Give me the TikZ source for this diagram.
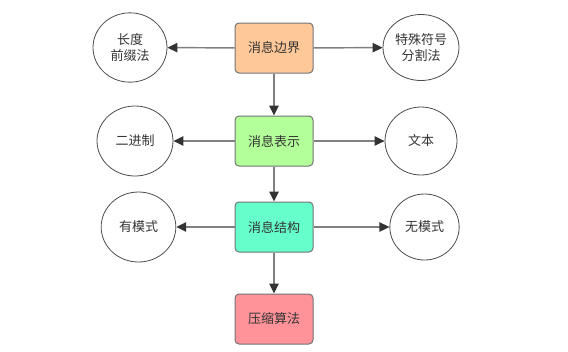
\documentclass[tikz,border=0pt]{standalone}
\usepackage{fontspec}
\newfontfamily\cjk{Noto Sans CJK SC}
\usetikzlibrary{arrows.meta,shapes.geometric}
\definecolor{txt}{HTML}{333333}
\definecolor{edge}{HTML}{808080}
\definecolor{tipc}{HTML}{333333}
\definecolor{cA}{HTML}{FFC899}
\definecolor{cB}{HTML}{B3FF99}
\definecolor{cC}{HTML}{66FFCC}
\definecolor{cD}{HTML}{FF9399}
\tikzset{
  box/.style={draw=black!55, line width=0.75pt, rounded corners=3pt, minimum width=58.5pt, minimum height=37.5pt, inner sep=0pt, font=\cjk\fontsize{9.75}{12.5}\selectfont, text=txt},
  oval/.style={draw=black!70, line width=0.6pt, ellipse, inner sep=0pt, font=\cjk\fontsize{9.75}{12.5}\selectfont, text=txt, align=center},
  conn/.style={draw=edge, line width=1.1pt, -{Triangle[length=7.5pt,width=7pt,color=tipc]}, shorten >=0pt},
}
\begin{document}
\begin{tikzpicture}[x=0.75pt,y=-0.75pt]
\useasboundingbox (0,0) rectangle (568,351);
\node[box, fill=cA] (b1) at (274,48) {消息边界};
\node[box, fill=cB] (b2) at (274,141) {消息表示};
\node[box, fill=cC] (b3) at (274,227) {消息结构};
\node[box, fill=cD] (b4) at (274,319) {压缩算法};
\node[oval, minimum width=55.5pt, minimum height=52pt] (l1) at (130,47.5) {长度\\前缀法};
\node[oval, minimum width=57pt, minimum height=49.5pt] (r1) at (421,47.5) {特殊符号\\分割法};
\node[oval, minimum width=57pt, minimum height=52.5pt] (l2) at (135,141) {二进制};
\node[oval, minimum width=54pt, minimum height=51pt] (r2) at (421,141) {文本};
\node[oval, minimum width=56pt, minimum height=52.5pt] (l3) at (138.5,227) {有模式};
\node[oval, minimum width=52pt, minimum height=49.5pt] (r3) at (424.5,227) {无模式};
\draw[conn] (b1) -- (l1);
\draw[conn] (b1) -- (r1);
\draw[conn] (b2) -- (l2);
\draw[conn] (b2) -- (r2);
\draw[conn] (b3) -- (l3);
\draw[conn] (b3) -- (r3);
\draw[conn] (b1) -- (b2);
\draw[conn] (b2) -- (b3);
\draw[conn] (b3) -- (b4);
\end{tikzpicture}
\end{document}
